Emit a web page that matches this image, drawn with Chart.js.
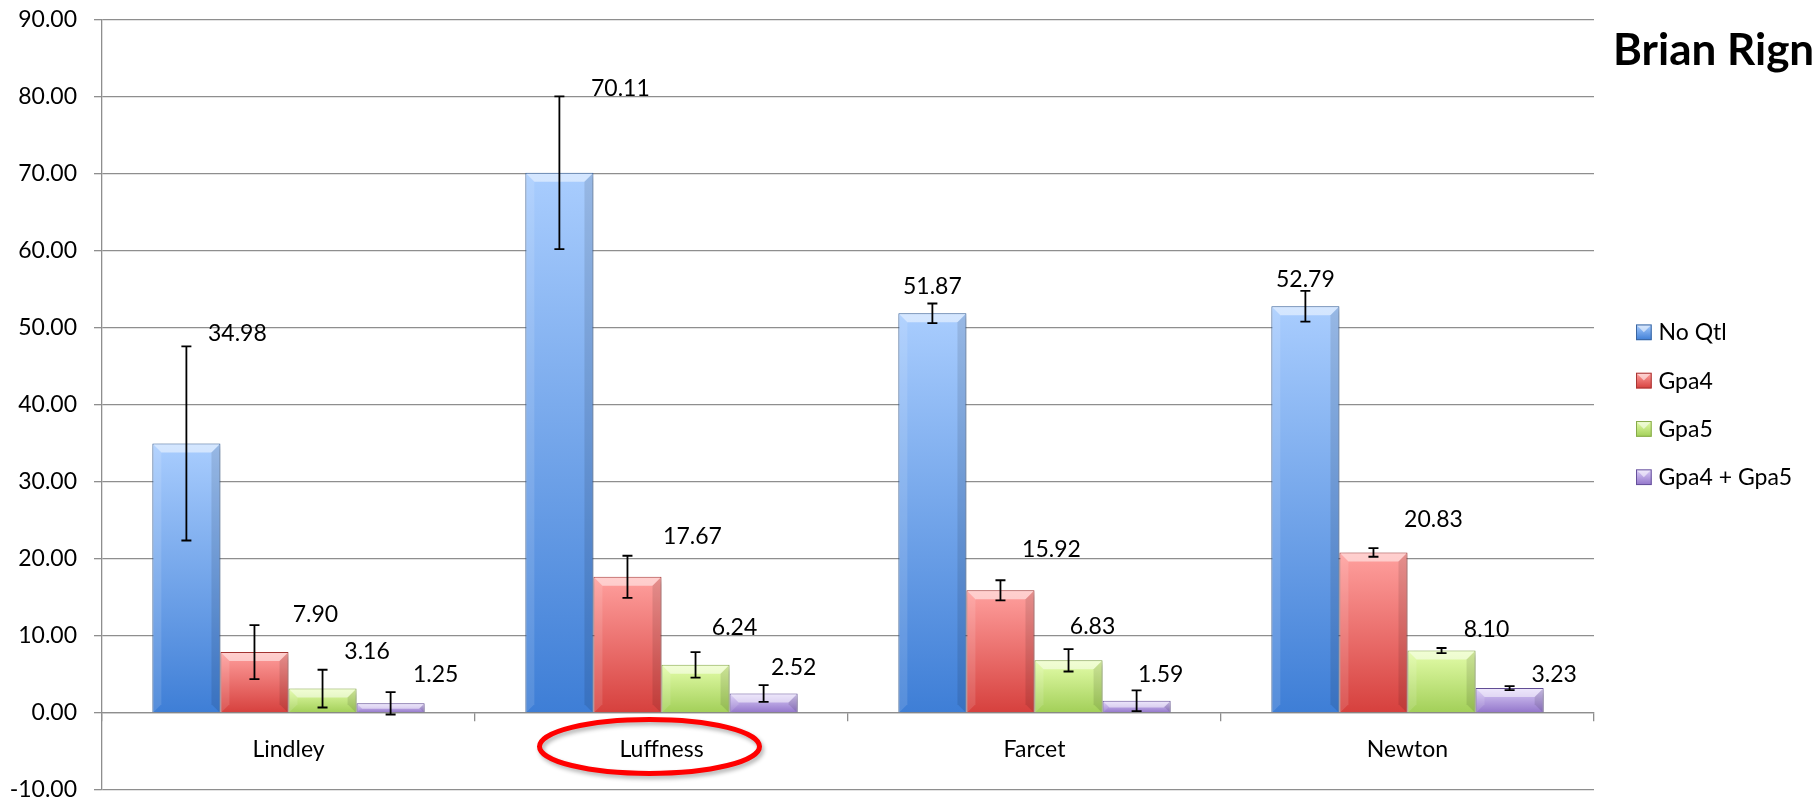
<!DOCTYPE html>
<html>
<head>
<meta charset="utf-8">
<script src="https://cdn.jsdelivr.net/npm/chart.js@4.4.0/dist/chart.umd.min.js"></script>
<style>
    html, body { margin: 0; padding: 0; background: #fff; }
    #wrap { width: 1814px; height: 802px; }
</style>
</head>
<body>
<div id="wrap"><canvas id="chart" width="1814" height="802"></canvas></div>
<script>
const sites = ['Lindley', 'Luffness', 'Farcet', 'Newton'];
const seriesNames = ['No Qtl', 'Gpa4', 'Gpa5', 'Gpa4 + Gpa5'];

const noQtl = [34.98, 70.11, 51.87, 52.79];
const gpa4 = [7.90, 17.67, 15.92, 20.83];
const gpa5 = [3.16, 6.24, 6.83, 8.10];
const gpa4gpa5 = [1.25, 2.52, 1.59, 3.23];

// error bar half-lengths
const noQtlErr = [12.6, 9.9, 1.27, 2.0];
const gpa4Err = [3.5, 2.73, 1.3, 0.56];
const gpa5Err = [2.45, 1.65, 1.45, 0.33];
const gpa4gpa5Err = [1.45, 1.08, 1.35, 0.26];

const yMin = -10;
const yMax = 90;
const yStep = 10;
const titleText = 'Brian Rigney';

// styles
const palette = [
    { top: '#a9cdfe', bottom: '#3e7ed6', border: '#3a65a0' },
    { top: '#ffa09e', bottom: '#d6403d', border: '#a83634' },
    { top: '#e4fdaa', bottom: '#a2cf58', border: '#86a94a' },
    { top: '#dccff8', bottom: '#9275ca', border: '#65509a' }
];
// label nudges [dx, dy] from the bar's top centre, as placed in the original
const labelNudge = [
    [[51, -111], [61, -85], [0, -27.5], [0, -28]],
    [[61, -38.6], [65, -41.6], [51, -42], [60, -34]],
    [[44.5, -38.4], [39, -37.7], [24, -34.4], [45, -22]],
    [[45, -30], [30, -26.6], [24, -26.5], [44.5, -14.5]]
];
const FONT = 'Lato, "Open Sans", sans-serif';
const GRID = '#8e8e8e';

const values = [noQtl, gpa4, gpa5, gpa4gpa5];
const errors = [noQtlErr, gpa4Err, gpa5Err, gpa4gpa5Err];

function barFill(p) {
    return function (c) {
        const chart = c.chart;
        if (!chart.chartArea || c.type !== 'data') return p.bottom;
        const ys = chart.scales.y;
        const y0 = ys.getPixelForValue(c.raw);
        const y1 = ys.getPixelForValue(0);
        const g = chart.ctx.createLinearGradient(0, y0, 0, y1 + 0.01);
        g.addColorStop(0, p.top);
        g.addColorStop(1, p.bottom);
        return g;
    };
}

const decor = {
    id: 'decor',
    beforeDatasetsDraw(chart) {
        const ctx = chart.ctx;
        ctx.save();
        ctx.shadowColor = 'rgba(0,0,0,0.28)';
        ctx.shadowBlur = 6;
        ctx.shadowOffsetX = 2;
        ctx.shadowOffsetY = 3;
    },
    afterDatasetsDraw(chart) {
        const ctx = chart.ctx;
        ctx.restore();
        const ys = chart.scales.y;

        // bevel look on each bar
        chart.data.datasets.forEach((ds, di) => {
            chart.getDatasetMeta(di).data.forEach((bar) => {
                const l = bar.x - bar.width / 2;
                const r = bar.x + bar.width / 2;
                const top = bar.y;
                const base = bar.base;
                const b = Math.min(8, (base - top) / 2);
                ctx.save();
                ctx.fillStyle = 'rgba(255,255,255,0.5)';
                ctx.beginPath();
                ctx.moveTo(l + 1, top + 1);
                ctx.lineTo(r - 1, top + 1);
                ctx.lineTo(r - 1 - b, top + 1 + b);
                ctx.lineTo(l + 1 + b, top + 1 + b);
                ctx.closePath();
                ctx.fill();
                ctx.fillStyle = 'rgba(0,0,0,0.10)';
                ctx.beginPath();
                ctx.moveTo(r - 1, top + 1);
                ctx.lineTo(r - 1, base);
                ctx.lineTo(r - 1 - b, base - b);
                ctx.lineTo(r - 1 - b, top + 1 + b);
                ctx.closePath();
                ctx.fill();
                ctx.fillStyle = 'rgba(255,255,255,0.12)';
                ctx.beginPath();
                ctx.moveTo(l + 1, top + 1);
                ctx.lineTo(l + 1 + b, top + 1 + b);
                ctx.lineTo(l + 1 + b, base - b);
                ctx.lineTo(l + 1, base);
                ctx.closePath();
                ctx.fill();
                ctx.restore();
            });
        });

        // error bars
        ctx.save();
        ctx.strokeStyle = '#000';
        ctx.lineWidth = 1.8;
        chart.data.datasets.forEach((ds, di) => {
            chart.getDatasetMeta(di).data.forEach((bar, i) => {
                const v = values[di][i];
                const e = errors[di][i];
                const yt = ys.getPixelForValue(v + e);
                const yb = ys.getPixelForValue(v - e);
                const x = bar.x;
                ctx.beginPath();
                ctx.moveTo(x, yt); ctx.lineTo(x, yb);
                ctx.moveTo(x - 5, yt); ctx.lineTo(x + 5, yt);
                ctx.moveTo(x - 5, yb); ctx.lineTo(x + 5, yb);
                ctx.stroke();
            });
        });
        ctx.restore();

        // value labels
        ctx.save();
        ctx.fillStyle = '#000';
        ctx.font = '23px ' + FONT;
        ctx.textAlign = 'center';
        ctx.textBaseline = 'alphabetic';
        chart.data.datasets.forEach((ds, di) => {
            chart.getDatasetMeta(di).data.forEach((bar, i) => {
                const n = labelNudge[di][i];
                ctx.fillText(values[di][i].toFixed(2), bar.x + n[0], bar.y + n[1] + 8.3);
            });
        });
        ctx.restore();
    },
    afterDraw(chart) {
        const ctx = chart.ctx;
        const area = chart.chartArea;

        // title, clipped by the canvas edge as in the original
        ctx.save();
        ctx.fillStyle = '#000';
        ctx.font = 'bold 44px ' + FONT;
        ctx.textAlign = 'left';
        ctx.textBaseline = 'alphabetic';
        ctx.fillText(titleText, area.right + 19, 65);
        ctx.restore();

        // legend
        const mid = (area.top + area.bottom) / 2;
        const gap = 48.3;
        const bx = area.right + 42;
        const sz = 15.7;
        ctx.save();
        ctx.font = '23px ' + FONT;
        ctx.textBaseline = 'alphabetic';
        seriesNames.forEach((name, i) => {
            const cy = mid + (i - 1.5) * gap;
            const p = palette[i];
            const top = cy - sz / 2;
            const g = ctx.createLinearGradient(0, top, 0, top + sz);
            g.addColorStop(0, p.top);
            g.addColorStop(1, p.bottom);
            ctx.fillStyle = g;
            ctx.fillRect(bx, top, sz, sz);
            ctx.fillStyle = 'rgba(255,255,255,0.55)';
            ctx.beginPath();
            ctx.moveTo(bx, top);
            ctx.lineTo(bx + sz, top);
            ctx.lineTo(bx + sz / 2, top + sz / 2);
            ctx.closePath();
            ctx.fill();
            ctx.strokeStyle = p.border;
            ctx.lineWidth = 1;
            ctx.strokeRect(bx + 0.5, top + 0.5, sz - 1, sz - 1);
            ctx.fillStyle = '#000';
            ctx.fillText(name, bx + 22.5, cy + 8);
        });
        ctx.restore();

        // red ellipse drawn round the Luffness label
        const ex = chart.scales.x.getPixelForValue(1) - 12;
        const ey = chart.scales.y.getPixelForValue(0) + 33.5;
        ctx.save();
        ctx.shadowColor = 'rgba(0,0,0,0.3)';
        ctx.shadowBlur = 4;
        ctx.shadowOffsetX = 2;
        ctx.shadowOffsetY = 3;
        ctx.strokeStyle = '#ff0000';
        ctx.lineWidth = 5;
        ctx.beginPath();
        ctx.ellipse(ex, ey, 110, 27, 0, 0, Math.PI * 2);
        ctx.stroke();
        ctx.restore();
    }
};

const ctx = document.getElementById('chart').getContext('2d');

new Chart(ctx, {
    type: 'bar',
    data: {
        labels: sites,
        datasets: seriesNames.map((name, i) => ({
            label: name,
            data: values[i],
            backgroundColor: barFill(palette[i]),
            borderColor: palette[i].border,
            borderWidth: 1,
            categoryPercentage: 0.73,
            barPercentage: 1.0
        }))
    },
    options: {
        responsive: false,
        animation: false,
        devicePixelRatio: 1,
        layout: {
            padding: { top: 19.5, right: 220, bottom: 12, left: 0 }
        },
        plugins: {
            legend: { display: false },
            tooltip: { enabled: false }
        },
        scales: {
            x: {
                position: { y: 0 },
                grid: {
                    display: true,
                    drawOnChartArea: false,
                    drawTicks: true,
                    tickLength: 8,
                    color: GRID,
                    lineWidth: 1.3,
                    offset: true
                },
                border: { display: true, color: GRID, width: 1.3 },
                ticks: {
                    color: '#000',
                    font: { family: FONT, size: 23 },
                    padding: 15
                }
            },
            y: {
                min: yMin,
                max: yMax,
                afterFit(scale) {
                    scale.width = 102;
                    scale.paddingTop = 0;
                    scale.paddingBottom = 0;
                },
                grid: {
                    color: GRID,
                    lineWidth: 1.3,
                    tickLength: 8
                },
                border: { display: true, color: GRID, width: 1.3 },
                ticks: {
                    stepSize: yStep,
                    color: '#000',
                    padding: 17,
                    font: { family: FONT, size: 23, lineHeight: 1 },
                    callback: (v) => v.toFixed(2)
                }
            }
        }
    },
    plugins: [decor]
});
</script>
</body>
</html>
